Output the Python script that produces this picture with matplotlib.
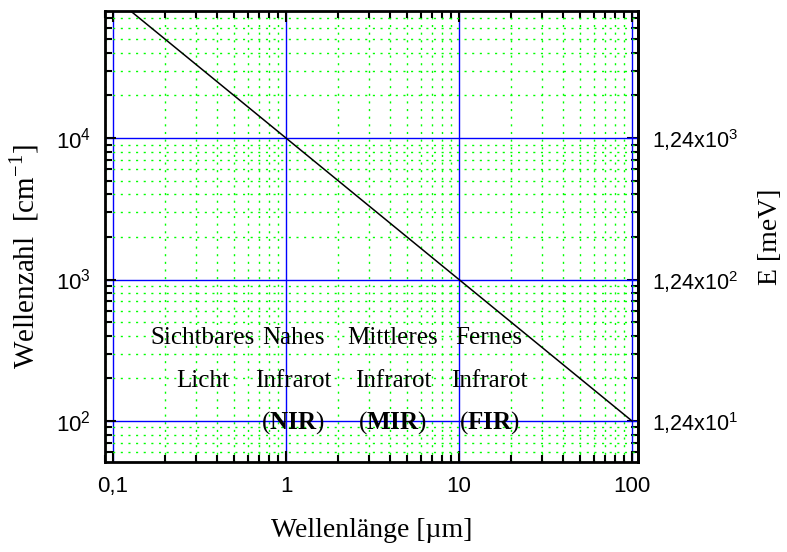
import matplotlib
matplotlib.use('Agg')
import matplotlib.pyplot as plt
from matplotlib.ticker import FixedLocator, LogLocator, NullFormatter

plt.rcParams['font.family'] = 'Liberation Serif'
plt.rcParams['mathtext.fontset'] = 'custom'
plt.rcParams['mathtext.rm'] = 'Liberation Serif'
plt.rcParams['mathtext.bf'] = 'Liberation Serif:bold'
plt.rcParams['mathtext.sf'] = 'Liberation Sans'

# Daten: Wellenzahl = 10^4 / Wellenlänge
wellenlaenge = [0.1, 100]      # µm
wellenzahl = [1e5, 1e2]        # cm^-1

x_ticks = [0.1, 1, 10, 100]
x_labels = ['0,1', '1', '10', '100']
y_ticks = [1e2, 1e3, 1e4]
y_labels = [r'$\mathsf{10^{2}}$', r'$\mathsf{10^{3}}$', r'$\mathsf{10^{4}}$']
e_ticks = [12.4, 124, 1240]    # meV
e_labels = [r'$\mathsf{1{,}24x10^{1}}$', r'$\mathsf{1{,}24x10^{2}}$',
            r'$\mathsf{1{,}24x10^{3}}$']

zeile1 = ['Sichtbares', 'Nahes', 'Mittleres', 'Fernes']
zeile2 = ['Licht', 'Infrarot', 'Infrarot', 'Infrarot']
zeile3 = ['', r'($\mathbf{NIR}$)', r'($\mathbf{MIR}$)', r'($\mathbf{FIR}$)']

fig = plt.figure(figsize=(7.87, 5.52), dpi=100)
ax = fig.add_axes([0.1334, 0.163, 0.6773, 0.817])

ax.set_xscale('log')
ax.set_yscale('log')
ax.set_xlim(0.0899, 108.3)
ax.set_ylim(51.3, 79000)

ax.grid(True, which='major', color='#0000ff', lw=1.0, zorder=0)
ax.grid(True, which='minor', color='#00ff00', lw=1.0, dashes=(1.5, 4), zorder=0)
ax.set_axisbelow(True)

ax.plot(wellenlaenge, wellenzahl, color='black', lw=1.1, zorder=3)

ax.set_xticks(x_ticks)
ax.set_xticklabels(x_labels)
ax.set_yticks(y_ticks)
ax.set_yticklabels(y_labels)
ax.xaxis.set_minor_locator(LogLocator(base=10, subs=range(2, 10), numticks=20))
ax.yaxis.set_minor_locator(LogLocator(base=10, subs=range(2, 10), numticks=20))
ax.xaxis.set_minor_formatter(NullFormatter())
ax.yaxis.set_minor_formatter(NullFormatter())

ax.tick_params(which='both', direction='in', top=True, right=False, width=1.5,
               labelsize=16, labelfontfamily='Liberation Sans', pad=10)
ax.tick_params(which='major', length=8)
ax.tick_params(which='minor', length=5)
for s in ax.spines.values():
    s.set_linewidth(2)

sec = ax.secondary_yaxis('right', functions=(lambda w: w * 0.124, lambda e: e / 0.124))
sec.set_yticks(e_ticks)
sec.set_yticklabels(e_labels)
sec.yaxis.set_minor_locator(FixedLocator([0.124 * k * 10 ** n for n in range(1, 5) for k in range(2, 10)]))
sec.yaxis.set_minor_formatter(NullFormatter())
sec.tick_params(which='both', direction='in', width=1.5, labelsize=15.5,
                labelfontfamily='Liberation Sans', pad=10)
sec.tick_params(which='major', length=8)
sec.tick_params(which='minor', length=5)
sec.spines['right'].set_linewidth(2)

ax.set_xlabel('Wellenlänge [µm]', fontsize=20, labelpad=15)
ax.set_ylabel(r'Wellenzahl  [cm$^{\mathrm{-1}}$]', fontsize=21)
ax.yaxis.set_label_coords(-0.12, 0.455)
sec.set_ylabel('E [meV]', fontsize=20, labelpad=14)

text_x = [0.33, 1.1, 4.15, 14.9]
for x, a, b, c in zip(text_x, zeile1, zeile2, zeile3):
    ax.text(x, 386, a, ha='center', va='center', fontsize=18, zorder=4)
    ax.text(x, 192, b, ha='center', va='center', fontsize=18, zorder=4)
    if c:
        ax.text(x, 98, c, ha='center', va='center', fontsize=18, zorder=4)

fig.savefig('out.png', dpi=100)
